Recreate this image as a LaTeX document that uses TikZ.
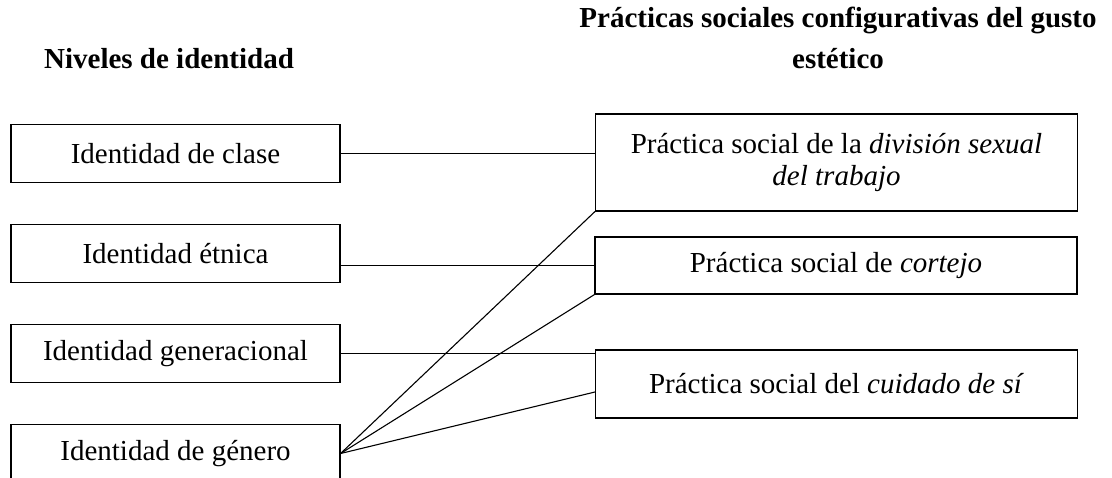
\documentclass[tikz,border=0pt]{standalone}
\usepackage{fontspec}
\setmainfont{Liberation Serif}
\usepackage{tikz}
\usetikzlibrary{positioning}

\begin{document}
\begin{tikzpicture}[x=0.5pt, y=-0.5pt, node distance={50pt},
  ident/.style = {draw, line width=0.55pt, minimum width=164.5pt, minimum height=29pt, inner sep=0pt, font=\fontsize{14.5}{17}\selectfont},
  prac/.style = {draw, line width=0.55pt, minimum width=241pt, inner sep=0pt, align=center, font=\fontsize{14.5}{16.5}\selectfont},
  head/.style = {inner sep=0pt, align=center, font=\fontsize{14.5}{20.5}\selectfont\bfseries},
  link/.style = {line width=0.55pt}]
    \useasboundingbox (0,0) rectangle (1112,477);
    \node[head, anchor=base] (niveles) at (169,68) {Niveles de identidad};
    \node[head, anchor=north] (practicas) at (838,7) {Prácticas sociales configurativas del gusto\\estético};
    \node[ident] (clase) at (175.5,153.5) {Identidad de clase};
    \node[ident] (etnica) [below of=clase] {Identidad étnica};
    \node[ident] (gener) [below of=etnica] {Identidad generacional};
    \node[ident] (genero) [below of=gener] {Identidad de género};
    \node[prac, minimum height=48.5pt] (division) at (836.5,162.5) {Práctica social de la \textit{división sexual}\\\textit{del trabajo}};
    \node[prac, minimum height=28.5pt] (cortejo) at (836,265.5) {Práctica social de \textit{cortejo}};
    \node[prac, minimum height=34pt] (cuidado) at (836.5,384) {Práctica social del \textit{cuidado de sí}};
    \draw[link] (clase.east) -- (clase.east -| division.west);
    \draw[link] (etnica.east |- cortejo.west) -- (cortejo.west);
    \draw[link] (gener.east) -- (gener.east -| cuidado.west);
    \draw[link] (genero.east) -- (division.south west);
    \draw[link] (genero.east) -- (cortejo.south west);
    \draw[link] (genero.east) -- ([yshift=-4pt]cuidado.west);
\end{tikzpicture}
\end{document}
